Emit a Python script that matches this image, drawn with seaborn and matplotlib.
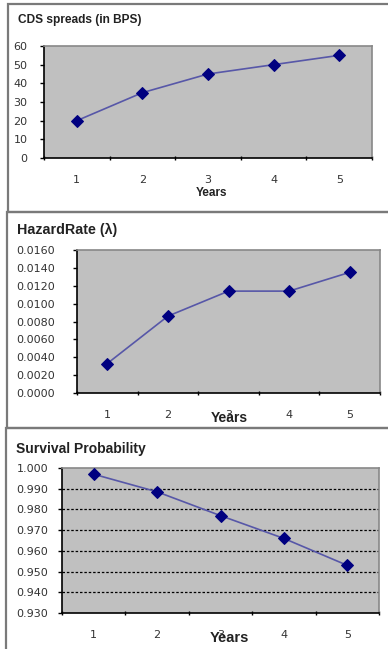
import numpy as np
import pandas as pd
import matplotlib
matplotlib.use("Agg")
import matplotlib.pyplot as plt
import seaborn as sns
from matplotlib.patches import Rectangle
from matplotlib.ticker import FormatStrFormatter, FixedLocator

# --- data ---
years = [1, 2, 3, 4, 5]
cds_spreads = [20, 35, 45, 50, 55]
hazard_rate = [0.0033, 0.0086, 0.0114, 0.0114, 0.0135]
survival_prob = [0.997, 0.9885, 0.977, 0.966, 0.953]

titles = ["CDS spreads (in BPS)", "HazardRate (\u03bb)", "Survival Probability"]

W, H = 388, 649
sns.set_theme(style="white")
plt.rcParams["font.family"] = ["DejaVu Sans"]

fig = plt.figure(figsize=(W / 100, H / 100), dpi=100)
fig.patch.set_facecolor("white")


def box(left, top, right, bottom):
    # pixel box -> figure fraction [l, b, w, h]
    return [left / W, 1 - bottom / H, (right - left) / W, (bottom - top) / H]


# outer frames round each chart
for (l, t, r, b) in [(8, 4, 390, 212), (7, 212, 390, 428), (6, 428, 390, 652)]:
    fig.patches.append(Rectangle((l / W, 1 - b / H), (r - l) / W, (b - t) / H,
                                 transform=fig.transFigure, fill=False,
                                 edgecolor="#7a7a7a", lw=1.6))

panels = [
    dict(vals=cds_spreads, rect=(44, 46, 372, 158), ylim=(0, 60), step=10,
         fmt="%d", ypad=9, title_xy=(18, 20), title_size=8.6,
         years_xy=(212, 193), years_size=8.5, grid=False),
    dict(vals=hazard_rate, rect=(77, 250, 380, 393), ylim=(0, 0.016), step=0.002,
         fmt="%.4f", ypad=13, title_xy=(17, 230), title_size=10.3,
         years_xy=(229, 418), years_size=10, grid=False),
    dict(vals=survival_prob, rect=(62, 468, 379, 613), ylim=(0.93, 1.0), step=0.01,
         fmt="%.3f", ypad=7, title_xy=(16, 449), title_size=10,
         years_xy=(229, 638), years_size=10.5, grid=True),
]

line_color = "#5757a8"
marker_color = "#000080"
text_color = "#333333"

for p, title in zip(panels, titles):
    ax = fig.add_axes(box(*p["rect"]))
    ax.set_facecolor("#c0c0c0")
    df = pd.DataFrame({"Years": years, "Value": p["vals"]})
    sns.lineplot(data=df, x="Years", y="Value", ax=ax, color=line_color,
                 linewidth=1.2, marker="D", markersize=6,
                 markerfacecolor=marker_color, markeredgecolor=marker_color,
                 zorder=3)
    ax.set_xlim(0.5, 5.5)
    ax.set_ylim(*p["ylim"])
    lo, hi = p["ylim"]
    ax.set_yticks(np.arange(lo, hi + p["step"] / 2, p["step"]))
    ax.yaxis.set_major_formatter(FormatStrFormatter(p["fmt"]))
    ax.set_xticks(years)
    ax.set_xticklabels([str(y) for y in years])
    ax.xaxis.set_minor_locator(FixedLocator([0.5, 1.5, 2.5, 3.5, 4.5, 5.5]))
    ax.tick_params(axis="x", which="major", length=0, pad=12, labelsize=8,
                   colors=text_color)
    ax.tick_params(axis="x", which="minor", length=3, width=1, color="black",
                   direction="inout", bottom=True)
    ax.tick_params(axis="y", length=3, width=1, color="black", direction="out",
                   left=True, labelsize=8, labelcolor=text_color, pad=p["ypad"])
    for side in ["top", "right"]:
        ax.spines[side].set_visible(True)
        ax.spines[side].set_color("#888888")
        ax.spines[side].set_linewidth(1.2)
    for side in ["left", "bottom"]:
        ax.spines[side].set_color("black")
        ax.spines[side].set_linewidth(1.2)
    if p["grid"]:
        for yv in np.arange(lo + p["step"], hi - p["step"] / 2, p["step"]):
            ax.axhline(yv, color="black", lw=0.9, ls=(0, (2, 1.5)), zorder=1)
    ax.set_xlabel("")
    ax.set_ylabel("")
    yx, yy = p["years_xy"]
    fig.text(yx / W, 1 - yy / H, "Years", ha="center", va="center",
             fontsize=p["years_size"], fontweight="bold", color="#222222",
             family=["Liberation Sans", "DejaVu Sans"])
    tx, ty = p["title_xy"]
    fig.text(tx / W, 1 - ty / H, title, ha="left", va="center",
             fontsize=p["title_size"], fontweight="bold", color="#222222",
             family=["Liberation Sans", "DejaVu Sans"])

fig.savefig("out.png", dpi=100)
